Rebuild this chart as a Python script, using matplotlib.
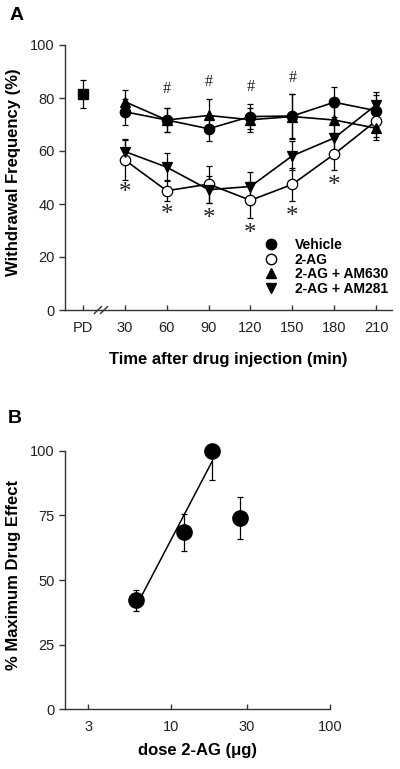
import numpy as np
import matplotlib
matplotlib.use("Agg")
import matplotlib.pyplot as plt

plt.rcParams['font.family'] = ['Liberation Sans', 'DejaVu Sans']

# ---------------- Panel A data ----------------
time_labels = ['PD', '30', '60', '90', '120', '150', '180', '210']
time_pos = [0, 30, 60, 90, 120, 150, 180, 210]
times = [30, 60, 90, 120, 150, 180, 210]

pd_value = 81.5
pd_err = 5.3

vehicle = [74.8, 71.7, 68.4, 73.0, 73.2, 78.4, 75.2]
vehicle_err = [5.0, 4.5, 4.7, 4.6, 8.3, 5.6, 6.0]
ag = [56.6, 45.0, 47.5, 41.4, 47.4, 58.8, 71.4]
ag_err = [7.5, 4.0, 7.0, 6.8, 6.3, 6.0, 6.0]
am630 = [78.6, 71.7, 73.4, 71.8, 73.0, 71.7, 68.6]
am630_err = [4.4, 4.5, 6.3, 4.6, 8.5, 5.0, 4.4]
am281 = [59.8, 53.9, 45.4, 46.6, 58.2, 64.9, 77.4]
am281_err = [4.8, 5.3, 5.0, 5.3, 5.4, 5.5, 5.0]

hash_times = [60, 90, 120, 150]
hash_y = [80.5, 83.0, 81.0, 84.5]
star_times = [30, 60, 90, 120, 150, 180]
star_y = [46.0, 37.8, 36.3, 30.6, 36.9, 48.8]

legend_labels = ['Vehicle', '2-AG', '2-AG + AM630', '2-AG + AM281']

# ---------------- Panel B data ----------------
dose = [6.0, 12.0, 18.0, 27.0]
effect = [42.2, 68.4, 99.8, 74.0]
effect_err = [4.0, 7.0, 11.0, 8.0]

W, H = 400, 769
fig = plt.figure(figsize=(W / 100, H / 100), dpi=100)

axis_col = '#333333'
lw = 1.2
ms = 7.5
tick_fs = 10.5
lab_fs = 12
cap = 2.4

# ---------- Panel A ----------
axA = fig.add_axes([65 / W, 1 - 310 / H, (392 - 65) / W, (310 - 45) / H])
series = [
    (vehicle, vehicle_err, 'o', 'black'),
    (ag, ag_err, 'o', 'white'),
    (am630, am630_err, '^', 'black'),
    (am281, am281_err, 'v', 'black'),
]
for vals, errs, mk, fc in series:
    axA.errorbar(times, vals, yerr=errs, fmt='none', ecolor='black',
                 elinewidth=0.9, capsize=cap, capthick=0.9, zorder=2)
for vals, errs, mk, fc in series:
    axA.plot(times, vals, '-', color='black', lw=lw, marker=mk, ms=ms,
             mfc=fc, mec='black', mew=0.9, zorder=3)
axA.errorbar([0], [pd_value], yerr=[pd_err], fmt='s', color='black', ms=7.5,
             elinewidth=0.9, capsize=cap, capthick=0.9, zorder=3)

for t, y in zip(hash_times, hash_y):
    axA.text(t, y, '#', ha='center', va='bottom', fontsize=11.5,
             family='Liberation Serif', color='#222222')
for t, y in zip(star_times, star_y):
    axA.annotate('*', xy=(t, y), xytext=(0, -3.5), textcoords='offset points',
                 ha='center', va='center', fontsize=18,
                 family='Liberation Serif', color='#222222')

axA.set_xlim(-12.9, 221.4)
axA.set_ylim(0, 100)
axA.set_yticks([0, 20, 40, 60, 80, 100])
axA.set_xticks(time_pos)
axA.set_xticklabels(time_labels)
for s in ['top', 'right']:
    axA.spines[s].set_visible(False)
for s in ['left', 'bottom']:
    axA.spines[s].set_color(axis_col)
    axA.spines[s].set_linewidth(1.0)
axA.tick_params(axis='y', direction='out', length=4, width=1.0, color=axis_col,
                labelsize=tick_fs, pad=3.5, labelcolor='#222222')
axA.tick_params(axis='x', direction='in', length=3.5, width=1.0, color=axis_col,
                labelsize=tick_fs, pad=8, labelcolor='#222222')
axA.set_ylabel('Withdrawal Frequency (%)', fontsize=lab_fs, fontweight='bold')
axA.set_xlabel('Time after drug injection (min)', fontsize=lab_fs, fontweight='bold')
axA.yaxis.set_label_coords((21 - 65) / 327, 0.52)
axA.xaxis.set_label_coords(0.5, (310 - 352) / 265)

# axis break marks
for dx in (-2.2, 2.2):
    xb = 12.9 + dx
    axA.plot([xb - 2.5, xb + 2.5], [-1.3, 1.3], color=axis_col, lw=1.0,
             clip_on=False, zorder=5)

# legend
leg_handles = [
    plt.Line2D([], [], ls='none', marker='o', ms=ms, mfc='black', mec='black'),
    plt.Line2D([], [], ls='none', marker='o', ms=ms, mfc='white', mec='black'),
    plt.Line2D([], [], ls='none', marker='^', ms=ms, mfc='black', mec='black'),
    plt.Line2D([], [], ls='none', marker='v', ms=ms, mfc='black', mec='black'),
]
leg = axA.legend(leg_handles, legend_labels, loc='lower right',
                 bbox_to_anchor=(1.018, 0.016), frameon=False, handletextpad=1.25,
                 labelspacing=0.05, prop={'weight': 'bold', 'size': 10},
                 borderaxespad=0.3, handlelength=1.0)

fig.text(10 / W, 1 - 16 / H, 'A', fontsize=14, fontweight='bold', va='center')

# ---------- Panel B ----------
axB = fig.add_axes([65 / W, 1 - 709.3 / H, (330 - 65) / W, (709.3 - 450.7) / H])
axB.set_xscale('log')
axB.errorbar(dose, effect, yerr=effect_err, fmt='none', ecolor='black',
             elinewidth=0.9, capsize=cap, capthick=0.9, zorder=2)
axB.plot(dose, effect, 'o', color='black', ms=11, zorder=3, clip_on=False)
lx = np.log10(dose[:3])
coef = np.polyfit(lx, effect[:3], 1)
xx = np.array([dose[0], dose[2]])
axB.plot(xx, np.polyval(coef, np.log10(xx)), '-', color='black', lw=1.1, zorder=4)

axB.set_xlim(2.14, 100)
axB.set_ylim(0, 100)
axB.set_yticks([0, 25, 50, 75, 100])
axB.set_xticks([3, 10, 30, 100])
axB.set_xticklabels(['3', '10', '30', '100'])
axB.xaxis.set_minor_locator(matplotlib.ticker.NullLocator())
for s in ['top', 'right']:
    axB.spines[s].set_visible(False)
for s in ['left', 'bottom']:
    axB.spines[s].set_color(axis_col)
    axB.spines[s].set_linewidth(1.0)
axB.tick_params(axis='y', direction='out', length=4, width=1.0, color=axis_col,
                labelsize=tick_fs, pad=3.5, labelcolor='#222222')
axB.tick_params(axis='x', direction='in', length=3.5, width=1.0, color=axis_col,
                labelsize=tick_fs, pad=8, labelcolor='#222222')
axB.set_ylabel('% Maximum Drug Effect', fontsize=lab_fs, fontweight='bold')
axB.set_xlabel('dose 2-AG (\u03bcg)', fontsize=lab_fs, fontweight='bold')
axB.yaxis.set_label_coords((21 - 65) / 265, 0.52)
axB.xaxis.set_label_coords(0.5, (709.3 - 743) / 258.6)

fig.text(8 / W, 1 - 418.5 / H, 'B', fontsize=14, fontweight='bold', va='center')

fig.savefig('out.png', dpi=100)
